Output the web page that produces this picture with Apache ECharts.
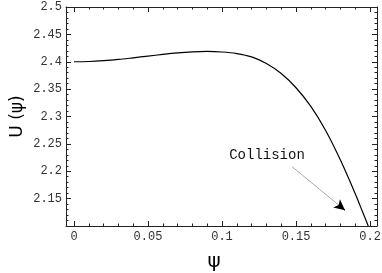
<!DOCTYPE html>
<html><head><meta charset="utf-8">
<script src="https://cdn.jsdelivr.net/npm/echarts@6/dist/echarts.min.js"></script>
<style>html,body{margin:0;padding:0;background:#fff}#c{width:382px;height:273px}</style>
</head><body><div id="c"></div>
<script>
// data
const psi = [0, 0.01, 0.02, 0.03, 0.04, 0.05, 0.06, 0.07, 0.08, 0.09, 0.10, 0.11, 0.12, 0.13, 0.14, 0.15, 0.16, 0.17, 0.18, 0.19, 0.195, 0.1988];
const U   = [2.4000, 2.4005, 2.4020, 2.4042, 2.4072, 2.4103, 2.4135, 2.4162, 2.4180, 2.4188, 2.4178, 2.4150, 2.4088, 2.3968, 2.3785, 2.3525, 2.3185, 2.2745, 2.2205, 2.1590, 2.1255, 2.1000];
const xTicks = [0, 0.05, 0.1, 0.15, 0.2];
const yTicks = [2.15, 2.2, 2.25, 2.3, 2.35, 2.4, 2.45, 2.5];
const xMinor = [0.01,0.02,0.03,0.04,0.06,0.07,0.08,0.09,0.11,0.12,0.13,0.14,0.16,0.17,0.18,0.19];
const yMinor = [2.11,2.12,2.13,2.14,2.16,2.17,2.18,2.19,2.21,2.22,2.23,2.24,2.26,2.27,2.28,2.29,2.31,2.32,2.33,2.34,2.36,2.37,2.38,2.39,2.41,2.42,2.43,2.44,2.46,2.47,2.48,2.49];
const annotText = 'Collision';
const annotTextAt = [0.1304, 2.2285];
const arrowFrom = [0.1473, 2.2084];
const arrowTo = [0.1831, 2.1287];
const xRange = [-0.0054, 0.2047];
const yRange = [2.1, 2.5];

const frameColor = '#222';
const labelStyle = {fontFamily: 'Liberation Mono', fontSize: 12, color: '#333'};

function xAx(pos, ticks, len, labels, line) {
  return {
    type: 'value', position: pos, min: xRange[0], max: xRange[1],
    axisLine: {show: line, onZero: false, lineStyle: {color: frameColor, width: 1}},
    axisTick: {show: true, inside: true, length: len, customValues: ticks, lineStyle: {color: frameColor}},
    axisLabel: labels ? Object.assign({show: true, customValues: ticks, margin: 5, hideOverlap: false}, labelStyle) : {show: false},
    splitLine: {show: false}
  };
}
function yAx(pos, ticks, len, labels, line) {
  return {
    type: 'value', position: pos, min: yRange[0], max: yRange[1],
    axisLine: {show: line, onZero: false, lineStyle: {color: frameColor, width: 1}},
    axisTick: {show: true, inside: true, length: len, customValues: ticks, lineStyle: {color: frameColor}},
    axisLabel: labels ? Object.assign({show: true, customValues: ticks, margin: 4, hideOverlap: false}, labelStyle) : {show: false},
    splitLine: {show: false}
  };
}

const xA0 = xAx('bottom', xTicks, 5, true, true);
xA0.name = 'ψ';
xA0.nameLocation = 'middle';
xA0.nameGap = 26;
xA0.nameMoveOverlap = false;
xA0.nameTextStyle = {fontFamily: 'DejaVu Sans', fontSize: 20, color: '#000', padding: [0, 15, 0, 0]};
const yA0 = yAx('left', yTicks, 5, true, true);
yA0.name = 'U (ψ)';
yA0.nameLocation = 'middle';
yA0.nameGap = 40;
yA0.nameMoveOverlap = false;
yA0.nameTextStyle = {fontFamily: 'DejaVu Sans', fontSize: 17, color: '#000'};

const chart = echarts.init(document.getElementById('c'), null, {renderer: 'canvas'});
chart.setOption({
  animation: false,
  grid: {left: 66, top: 7, right: 5, bottom: 47, containLabel: false, outerBoundsMode: 'none'},
  xAxis: [xA0, xAx('bottom', xMinor, 2.5, false, false), xAx('top', xTicks, 5, false, true), xAx('top', xMinor, 2.5, false, false)],
  yAxis: [yA0, yAx('left', yMinor, 2.5, false, false), yAx('right', yTicks, 5, false, true), yAx('right', yMinor, 2.5, false, false)],
  series: [{
    type: 'line', xAxisIndex: 0, yAxisIndex: 0,
    data: psi.map((p, i) => [p, U[i]]),
    showSymbol: false, smooth: 0.3, clip: true,
    lineStyle: {color: '#000', width: 1.2},
    markLine: {
      silent: true, animation: false, symbol: ['none', 'none'],
      label: {show: false},
      data: [
        [{coord: arrowFrom, lineStyle: {color: '#aaa', width: 1, type: 'solid'}, symbol: 'none'},
         {coord: arrowTo, symbol: 'none'}],
        [{coord: [arrowTo[0] - (arrowTo[0]-arrowFrom[0])*0.05, arrowTo[1] - (arrowTo[1]-arrowFrom[1])*0.05], lineStyle: {color: '#000', width: 1, type: 'solid'}, symbol: 'none'},
         {coord: arrowTo, symbol: 'arrow', symbolSize: [8, 11]}]
      ]
    },
    markPoint: {
      silent: true, animation: false,
      symbol: 'circle', symbolSize: 0,
      label: {show: true, position: 'inside', formatter: annotText, fontFamily: 'Liberation Mono', fontSize: 14, color: '#111'},
      data: [{coord: annotTextAt}]
    }
  }]
});
</script></body></html>
